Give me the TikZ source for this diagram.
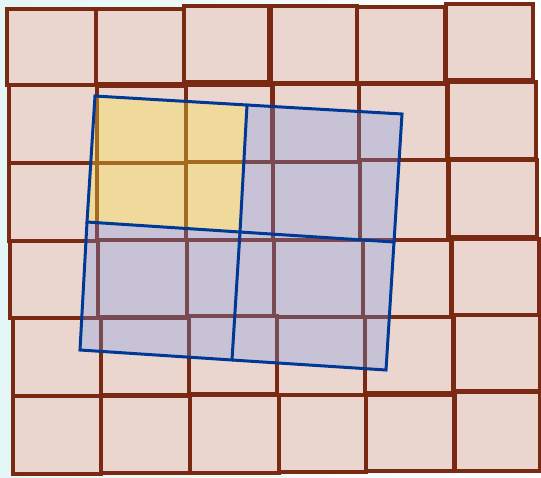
\documentclass[tikz,border=0pt]{standalone}
\usepackage{xcolor}
\usepackage{tikz}
\definecolor{brique}{RGB}{122,42,18}
\definecolor{rose}{RGB}{234,214,207}
\definecolor{bleu}{RGB}{0,56,150}
\definecolor{voile}{RGB}{120,150,230}
\definecolor{jaune}{RGB}{250,225,60}
\definecolor{ciel}{RGB}{228,246,246}

\begin{document}
\begin{tikzpicture}[x=1pt, y=-1pt]
\useasboundingbox (0,0) rectangle (541,477);
\fill[left color=ciel, right color=white] (0,0) rectangle (541,477);
% grille du fond
\foreach \xa/\ya/\xb/\yb in {7/9/96/85, 96/9/184/84, 184/6/269/82, 271/6/357/83, 357/7/445/83, 446/4/533/80,
  9/85/97/163, 97/86/186/163, 186/85/272/162, 273/84/359/162, 359/84/447/160, 448/82/536/159,
  9/163/97/241, 97/163/186/240, 186/162/273/240, 273/162/360/240, 360/160/448/240, 449/160/537/237,
  10/241/98/318, 98/240/187/317, 187/240/274/316, 274/240/363/317, 363/240/451/317, 452/239/539/315,
  13/318/101/396, 101/318/189/395, 189/316/277/394, 277/317/365/395, 365/317/453/393, 454/315/540/391,
  13/396/101/474, 101/396/190/473, 190/395/279/473, 279/395/366/472, 366/395/454/471, 455/392/540/471} {
  \filldraw[fill=rose, draw=brique, line width=3.5] (\xa,\ya) rectangle (\xb,\yb);
}
% les quatre carres inclines
\coordinate (p00) at (95,96);  \coordinate (p10) at (247,105); \coordinate (p20) at (402,114);
\coordinate (p01) at (87,222); \coordinate (p11) at (240,232); \coordinate (p21) at (394,242);
\coordinate (p02) at (80,350); \coordinate (p12) at (232,360); \coordinate (p22) at (386,370);
\fill[jaune, opacity=0.35] (p00) -- (p10) -- (p11) -- (p01) -- cycle;
\fill[voile, opacity=0.3] (p10) -- (p20) -- (p21) -- (p11) -- cycle;
\fill[voile, opacity=0.3] (p01) -- (p11) -- (p12) -- (p02) -- cycle;
\fill[voile, opacity=0.3] (p11) -- (p21) -- (p22) -- (p12) -- cycle;
\draw[bleu, line width=3, line join=miter] (p00) -- (p10) -- (p11) -- (p01) -- cycle;
\draw[bleu, line width=3] (p10) -- (p20) -- (p21) -- (p11);
\draw[bleu, line width=3] (p01) -- (p02) -- (p12) -- (p11);
\draw[bleu, line width=3] (p21) -- (p22) -- (p12);
\end{tikzpicture}
\end{document}
